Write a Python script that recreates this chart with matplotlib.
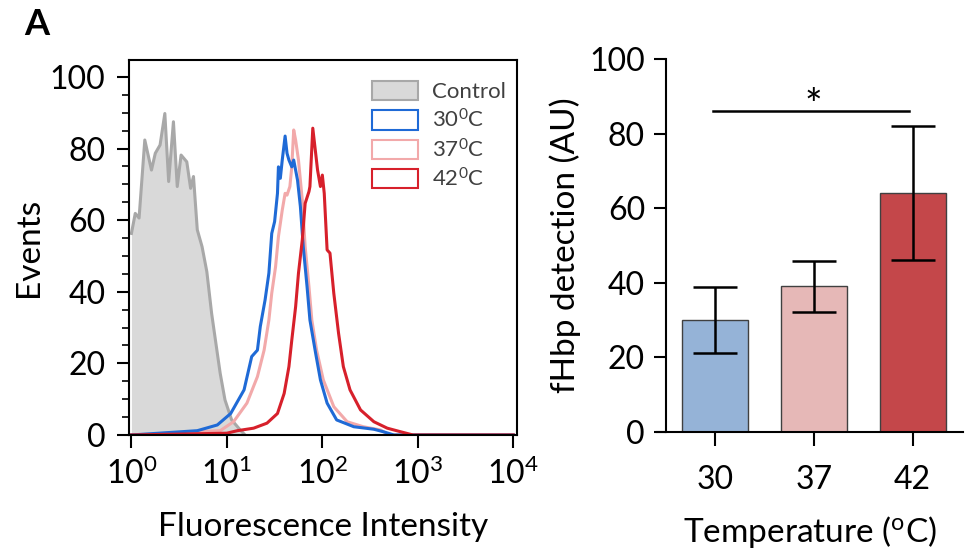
import numpy as np
import matplotlib
matplotlib.use('Agg')
import matplotlib.pyplot as plt
from matplotlib.patches import Patch
from matplotlib.ticker import MultipleLocator, LogLocator, NullFormatter

plt.rcParams['font.family'] = ['Lato', 'DejaVu Sans']
plt.rcParams['mathtext.fontset'] = 'custom'
plt.rcParams['mathtext.rm'] = 'Lato'
plt.rcParams['mathtext.it'] = 'Lato:italic'
plt.rcParams['mathtext.bf'] = 'Lato:bold'

# --- flow cytometry histograms (log10 intensity, events) ---
control_logx = [0.0, 0.04, 0.08, 0.14, 0.21, 0.25, 0.30, 0.35, 0.39, 0.44, 0.48, 0.52,
                0.58, 0.62, 0.65, 0.69, 0.74, 0.79, 0.84, 0.88, 0.93, 0.98, 1.05, 1.14, 1.19]
control_y = [56.3, 61.9, 60.6, 82.4, 74.0, 78.7, 81.0, 89.8, 70.8, 87.5, 69.4, 78.2,
             76.3, 68.9, 72.2, 57.3, 52.6, 45.6, 34.0, 26.5, 17.2, 9.8, 4.2, 1.4, 0.0]

c30_logx = [0.0, 0.69, 0.90, 1.04, 1.18, 1.26, 1.32, 1.35, 1.40, 1.44, 1.47, 1.50, 1.53,
            1.54, 1.56, 1.58, 1.61, 1.63, 1.65, 1.68, 1.70, 1.74, 1.77, 1.80, 1.84, 1.87,
            1.93, 1.98, 2.05, 2.15, 2.33, 2.54, 2.64, 2.75, 4.0]
c30_y = [0.0, 1.2, 2.8, 6.0, 12.6, 21.9, 23.7, 30.3, 37.7, 45.2, 56.3, 59.6, 67.5,
         74.9, 71.7, 76.8, 83.5, 78.7, 76.8, 74.9, 76.8, 71.2, 63.8, 52.6, 41.4, 32.1,
         22.8, 15.4, 8.9, 4.2, 2.3, 1.6, 0.9, 0.0, 0.0]

c37_logx = [0.0, 0.93, 1.07, 1.21, 1.32, 1.39, 1.44, 1.47, 1.51, 1.54, 1.58, 1.61, 1.63,
            1.66, 1.68, 1.70, 1.72, 1.75, 1.79, 1.82, 1.86, 1.89, 1.94, 2.01, 2.12, 2.26,
            2.43, 2.61, 2.70, 4.0]
c37_y = [0.0, 1.2, 3.7, 8.9, 16.3, 23.7, 32.1, 39.6, 47.0, 55.4, 62.8, 67.5, 67.0,
         69.4, 74.9, 85.2, 82.4, 76.8, 65.6, 52.6, 41.4, 32.1, 23.7, 15.4, 7.9, 3.7,
         2.3, 1.4, 0.0, 0.0]

c42_logx = [0.0, 1.0, 1.11, 1.28, 1.42, 1.53, 1.60, 1.65, 1.68, 1.72, 1.75, 1.79, 1.82,
            1.86, 1.87, 1.90, 1.93, 1.95, 1.98, 2.00, 2.02, 2.05, 2.08, 2.12, 2.17, 2.22,
            2.29, 2.40, 2.54, 2.68, 2.82, 2.95, 4.0]
c42_y = [0.0, 0.5, 1.2, 1.9, 3.3, 6.0, 11.6, 19.1, 26.5, 35.8, 45.2, 54.5, 64.7,
         68.0, 69.4, 85.7, 78.7, 74.0, 69.4, 72.6, 67.5, 51.7, 50.8, 39.6, 28.4, 19.1,
         12.6, 7.0, 3.7, 1.9, 0.9, 0.0, 0.0]

hist_labels = ['Control', '30$^0$C', '37$^0$C', '42$^0$C']

# --- bar chart ---
temps = ['30', '37', '42']
detection = [30, 39, 64]
detection_err = [8.8, 6.8, 18]
bar_colors = ['#95b3d7', '#e6b8b7', '#c4474a']

blue = '#1f6ad6'
pink = '#f2a9aa'
red = '#d7202b'
gray_edge = '#a8a8a8'
gray_fill = '#d9d9d9'

TICK = 23
LABEL = 24

fig = plt.figure(figsize=(9.71, 5.52), dpi=100)

# left panel
ax1 = fig.add_axes([0.1329, 0.212, 0.3996, 0.679])
ax1.fill_between(10 ** np.array(control_logx), control_y, 0, color=gray_fill, lw=0)
ax1.plot(10 ** np.array(control_logx), control_y, color=gray_edge, lw=2.2)
ax1.plot(10 ** np.array(c37_logx), c37_y, color=pink, lw=2.2)
ax1.plot(10 ** np.array(c30_logx), c30_y, color=blue, lw=2.2)
ax1.plot(10 ** np.array(c42_logx), c42_y, color=red, lw=2.2)
ax1.set_xscale('log')
ax1.set_xlim(10 ** -0.025, 10 ** 4.04)
ax1.set_ylim(0, 104.7)
ax1.set_xticks([1, 10, 100, 1000, 10000])
ax1.set_xticklabels(['$10^0$', '$10^1$', '$10^2$', '$10^3$', '$10^4$'])
ax1.xaxis.set_minor_locator(LogLocator(base=10, subs=np.arange(2, 10)))
ax1.xaxis.set_minor_formatter(NullFormatter())
ax1.yaxis.set_major_locator(MultipleLocator(20))
ax1.yaxis.set_minor_locator(MultipleLocator(5))
ax1.tick_params(which='major', direction='out', length=9, width=1.5, labelsize=TICK)
ax1.tick_params(axis='y', which='major', pad=8)
ax1.tick_params(axis='x', which='major', pad=7)
ax1.tick_params(which='minor', direction='out', length=5, width=1.2)
ax1.tick_params(top=False, right=False, which='both')
for s in ax1.spines.values():
    s.set_linewidth(1.5)
ax1.set_ylabel('Events', fontsize=LABEL, labelpad=4)
ax1.set_xlabel('Fluorescence Intensity', fontsize=LABEL, labelpad=16)

handles = [Patch(facecolor=gray_fill, edgecolor=gray_edge, lw=1.5),
           Patch(facecolor='white', edgecolor=blue, lw=1.5),
           Patch(facecolor='white', edgecolor=pink, lw=1.5),
           Patch(facecolor='white', edgecolor=red, lw=1.5)]
leg = ax1.legend(handles, hist_labels, loc='upper right', bbox_to_anchor=(1.005, 0.98),
                 frameon=False, fontsize=16, handlelength=2.1, handleheight=0.95,
                 handletextpad=0.6, labelspacing=0.28, borderaxespad=0.2)
for t in leg.get_texts():
    t.set_color('#404040')

fig.text(0.038, 0.955, 'A', fontsize=26, fontweight='bold', ha='center', va='center')

# right panel
ax2 = fig.add_axes([0.6766, 0.2179, 0.3151, 0.675])
x = np.arange(len(temps))
ax2.bar(x, detection, width=0.67, color=bar_colors, edgecolor='#404040', lw=1.0,
        yerr=detection_err, error_kw=dict(ecolor='black', elinewidth=1.8, capsize=16, capthick=1.8))
ax2.set_xlim(-0.59, 2.51)
ax2.set_ylim(0, 100)
ax2.spines['left'].set_position(('data', -0.5))
ax2.spines['top'].set_visible(False)
ax2.spines['right'].set_visible(False)
for s in ax2.spines.values():
    s.set_linewidth(1.5)
ax2.set_xticks(x)
ax2.set_xticklabels(temps)
ax2.yaxis.set_major_locator(MultipleLocator(20))
ax2.tick_params(axis='y', direction='out', length=9, width=1.5, labelsize=TICK, pad=6)
ax2.tick_params(axis='x', direction='out', length=10, width=1.5, labelsize=TICK, pad=14)
ax2.set_ylabel('fHbp detection (AU)', fontsize=LABEL, labelpad=6)
ax2.set_xlabel('Temperature ($^{\\mathrm{o}}$C)', fontsize=LABEL, labelpad=14)

# significance bar
ax2.plot([-0.02, 1.96], [86, 86], color='black', lw=1.8, clip_on=False)
ax2.text(0.99, 82, '*', fontsize=30, ha='center', va='bottom')

fig.savefig('out.png', dpi=100)
